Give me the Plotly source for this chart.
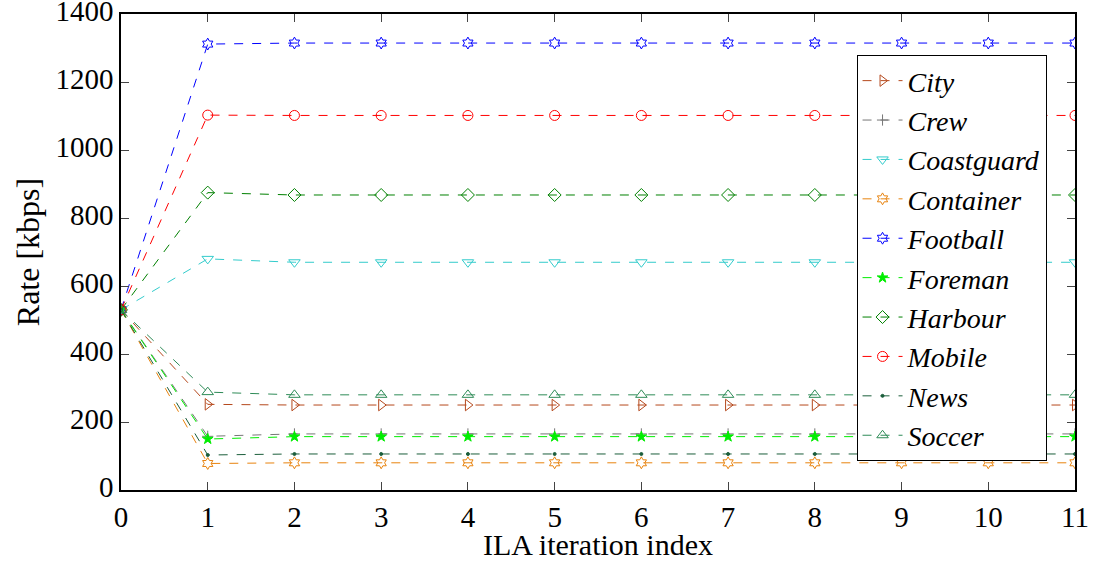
import plotly.graph_objects as go

iterations = list(range(12))

city = [530, 252, 250, 250, 250, 250, 250, 250, 250, 250, 250, 250]
crew = [530, 158, 165, 165, 165, 165, 165, 165, 165, 165, 165, 165]
coastguard = [530, 680, 670, 670, 670, 670, 670, 670, 670, 670, 670, 670]
container = [530, 78, 80, 80, 80, 80, 80, 80, 80, 80, 80, 80]
football = [530, 1312, 1315, 1315, 1315, 1315, 1315, 1315, 1315, 1315, 1315, 1315]
foreman = [530, 150, 157, 157, 157, 157, 157, 157, 157, 157, 157, 157]
harbour = [530, 875, 868, 868, 868, 868, 868, 868, 868, 868, 868, 868]
mobile = [530, 1103, 1102, 1102, 1102, 1102, 1102, 1102, 1102, 1102, 1102, 1102]
news = [530, 103, 106, 106, 106, 106, 106, 106, 106, 106, 106, 106]
soccer = [530, 288, 280, 280, 280, 280, 280, 280, 280, 280, 280, 280]

series = [
    ("City", city, "#b5481c", "triangle-right-open", 10),
    ("Crew", crew, "#777777", "cross-thin-open", 8),
    ("Coastguard", coastguard, "#33cccc", "triangle-down-open", 10),
    ("Container", container, "#e8830e", "hexagram-open", 9),
    ("Football", football, "#0000ff", "hexagram-open", 9),
    ("Foreman", foreman, "#00ee00", "star", 8),
    ("Harbour", harbour, "#008000", "diamond-open", 10),
    ("Mobile", mobile, "#ff0000", "circle-open", 10),
    ("News", news, "#1b5e3b", "circle", 3),
    ("Soccer", soccer, "#2e8b57", "triangle-up-open", 10),
]

fig = go.Figure()
for name, vals, color, sym, size in series:
    fig.add_trace(go.Scatter(
        x=iterations, y=vals, name=name, mode="lines+markers",
        line=dict(color=color, width=1, dash="dash"),
        marker=dict(symbol=sym, size=size, color=color,
                    line=dict(color=color, width=1)),
    ))

ff = "Liberation Serif"
fig.update_layout(
    width=1101, height=561,
    margin=dict(l=121, r=26, t=14, b=71, autoexpand=False),
    paper_bgcolor="white", plot_bgcolor="white",
    font=dict(family=ff, size=30, color="black"),
    showlegend=True,
    legend=dict(
        x=0.771, y=0.914, xanchor="left", yanchor="top",
        bgcolor="white", bordercolor="black", borderwidth=1,
        font=dict(family=ff, size=28, style="italic"),
        tracegroupgap=0, itemwidth=40,
    ),
    xaxis=dict(
        range=[0, 11], tickvals=iterations, ticks="inside", ticklen=8,
        showline=True, linecolor="black", linewidth=1.5, mirror="allticks",
        showgrid=False, zeroline=False, ticklabeloverflow="allow", automargin=False,
        title=dict(text="ILA iteration index", standoff=6, font=dict(size=30, family=ff)),
        tickfont=dict(size=29, family=ff),
    ),
    yaxis=dict(
        range=[0, 1400.5], tickvals=[0, 200, 400, 600, 800, 1000, 1200, 1400],
        ticks="inside", ticklen=8, ticklabeloverflow="allow", automargin=False,
        ticklabelshift=-3,
        showline=True, linecolor="black", linewidth=1.5, mirror="allticks",
        showgrid=False, zeroline=False,
        title=dict(text="Rate [kbps]", standoff=6, font=dict(size=32, family=ff)),
        tickfont=dict(size=29, family=ff),
    ),
)

fig.write_html("out.html")
